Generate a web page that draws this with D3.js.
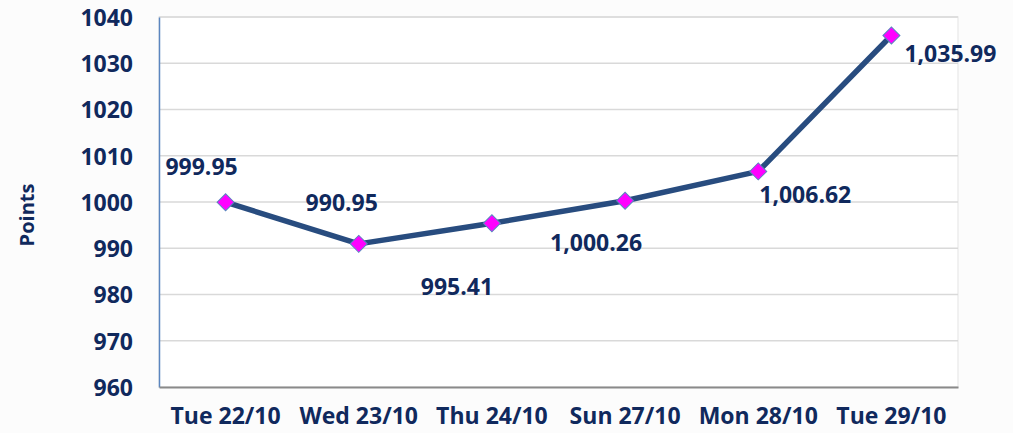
<!DOCTYPE html>
<html>
<head>
<meta charset="utf-8">
<script src="https://cdnjs.cloudflare.com/ajax/libs/d3/7.8.5/d3.min.js"></script>
<style>
html, body { margin: 0; padding: 0; background: #fcfcfc; }
#chart text { font-family: "Open Sans", Lato, sans-serif; font-weight: bold; fill: #10295d; }
</style>
</head>
<body>
<div id="chart"></div>
<script>

/* ==========================
   Data
========================== */

const days = ["Tue 22/10", "Wed 23/10", "Thu 24/10", "Sun 27/10", "Mon 28/10", "Tue 29/10"];
const points = [999.95, 990.95, 995.41, 1000.26, 1006.62, 1035.99];
const pointLabels = ["999.95", "990.95", "995.41", "1,000.26", "1,006.62", "1,035.99"];
const yTicks = [960, 970, 980, 990, 1000, 1010, 1020, 1030, 1040];

// hand placed label offsets (from the marker)
const labelShift = [[-24, -27], [-17, -33], [-35, 72], [-29, 50], [47, 32], [59, 26]];

/* ==========================
   Chart
========================== */

const width = 1013;
const height = 433;
const margin = {top: 17, right: 55, bottom: 46, left: 159};

const svg = d3.select("#chart")
.append("svg")
.attr("width", width)
.attr("height", height);

const x = d3.scaleBand()
.domain(days)
.range([margin.left, width - margin.right]);

const y = d3.scaleLinear()
.domain([960, 1040])
.range([height - margin.bottom, margin.top]);

// plot area
svg.append("rect")
.attr("x", margin.left)
.attr("y", margin.top)
.attr("width", width - margin.right - margin.left)
.attr("height", height - margin.bottom - margin.top)
.attr("fill", "#ffffff")
.attr("stroke", "#ececec")
.attr("stroke-width", 1.5);

// gridlines
svg.append("g")
.selectAll("line")
.data(yTicks.slice(1))
.enter()
.append("line")
.attr("x1", margin.left)
.attr("x2", width - margin.right)
.attr("y1", d => y(d))
.attr("y2", d => y(d))
.attr("stroke", "#d9d9d9")
.attr("stroke-width", 1.5);

// y axis
const yAxis = svg.append("g")
.attr("transform", `translate(${margin.left},0)`)
.call(d3.axisLeft(y).tickValues(yTicks).tickFormat(d3.format("d")).tickSize(0).tickPadding(26));

yAxis.select(".domain")
.attr("stroke", "#5b86c0")
.attr("stroke-width", 1.5);

yAxis.selectAll("text")
.style("font-size", "23px")
.attr("dy", "0.36em");

// x axis
const xAxis = svg.append("g")
.attr("transform", `translate(0,${height - margin.bottom})`)
.call(d3.axisBottom(x).tickSize(0).tickPadding(21));

xAxis.select(".domain")
.attr("stroke", "#8a8a8a")
.attr("stroke-width", 2);

xAxis.selectAll("text")
.style("font-size", "23px")
.attr("dy", "0.71em");

// axis title
svg.append("text")
.attr("transform", `translate(34,${(margin.top + height - margin.bottom) / 2 + 13}) rotate(-90)`)
.attr("text-anchor", "middle")
.style("font-size", "20px")
.text("Points");

// line
const line = d3.line()
.x((d, i) => x(days[i]) + x.bandwidth() / 2)
.y(d => y(d));

svg.append("path")
.datum(points)
.attr("d", line)
.attr("fill", "none")
.attr("stroke", "#284c7f")
.attr("stroke-width", 5.5)
.attr("stroke-linejoin", "round");

// markers
svg.append("g")
.selectAll("path")
.data(points)
.enter()
.append("path")
.attr("d", d3.symbol().type(d3.symbolSquare).size(145))
.attr("transform", (d, i) => `translate(${x(days[i]) + x.bandwidth() / 2},${y(d)}) rotate(45)`)
.attr("fill", "#ff00ff")
.attr("stroke", "#5b86c0")
.attr("stroke-width", 1);

// value labels
svg.append("g")
.selectAll("text")
.data(points)
.enter()
.append("text")
.attr("x", (d, i) => x(days[i]) + x.bandwidth() / 2 + labelShift[i][0])
.attr("y", (d, i) => y(d) + labelShift[i][1])
.attr("text-anchor", "middle")
.style("font-size", "23px")
.text((d, i) => pointLabels[i]);

</script>
</body>
</html>
